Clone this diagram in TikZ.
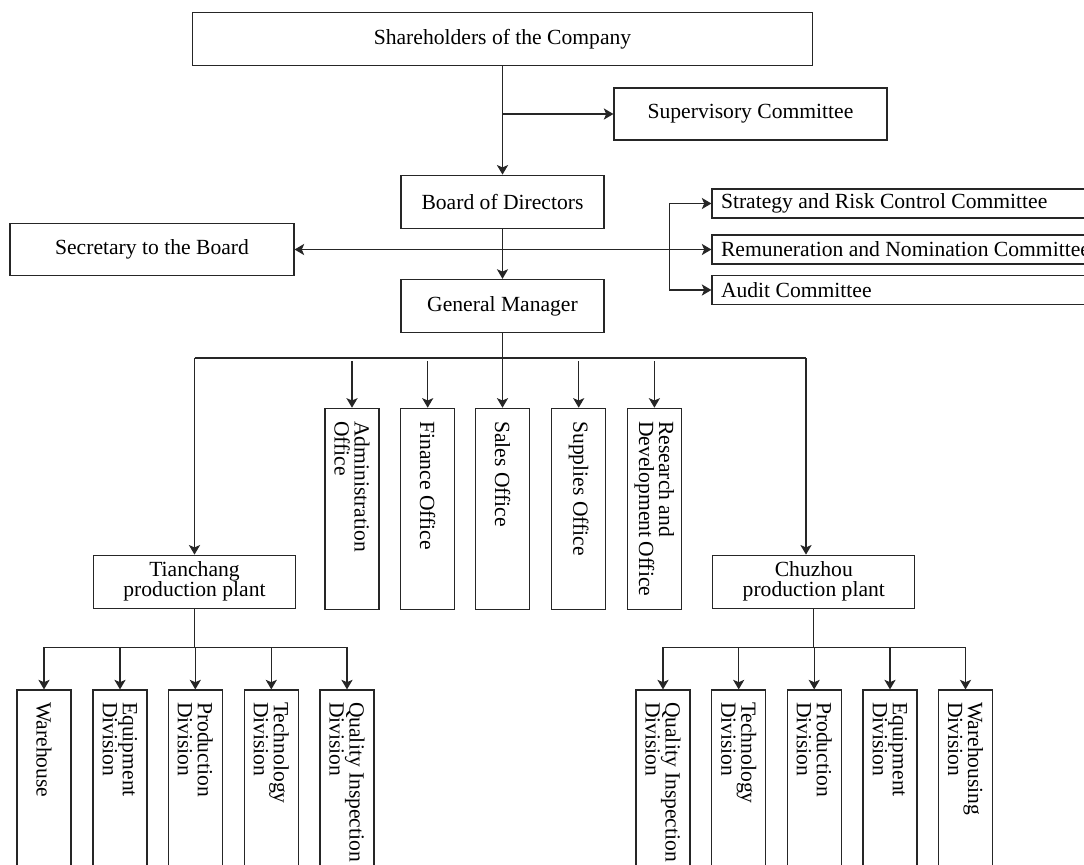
\documentclass[tikz,border=0pt]{standalone}
\usepackage{fontspec}
\setmainfont{Liberation Serif}
\usetikzlibrary{arrows.meta,positioning,calc}
\definecolor{OrgInk}{HTML}{262626}

\begin{document}
\begin{tikzpicture}[
  x=0.5pt, y=-0.5pt,
  line width=0.6pt, color=OrgInk,
  font=\fontsize{10.8}{10}\selectfont,
  orgbox/.style={draw=OrgInk,text=black,minimum height=26.5pt,
    inner sep=2pt,align=center},
  deptbox/.style={draw=OrgInk,text=black,rotate=-90,minimum height=27pt,
    inner ysep=0pt,align=flush left},
  offbox/.style={deptbox,minimum width=100.5pt,inner xsep=6.5pt,text width=87.5pt},
  divbox/.style={deptbox,minimum width=105pt,inner xsep=6pt,text width=93pt},
  cmtebox/.style={draw=OrgInk,text=black,anchor=west,minimum height=14.5pt,
    inner xsep=4.5pt,inner ysep=0pt,text width=230pt,align=flush left},
  link/.style={-{Stealth[length=4.8pt,width=5.6pt,inset=1.2pt]}}
]
\fill[white] (0,0) rectangle (1084,864);
\useasboundingbox (0,0) rectangle (1084,864);

% top of the chart
\node (sh) [orgbox,minimum width=310pt] at (502.5,38.8) {Shareholders of the Company};
\node (bod) [orgbox,minimum width=101.5pt,below=54.35pt of sh] {Board of Directors};
\node (gm) [orgbox,minimum width=101.5pt,below=25pt of bod] {General Manager};
\node (sup) [orgbox,minimum width=136.5pt,minimum height=26pt] at (750.5,114) {Supervisory Committee};
\node (sec) [orgbox,minimum width=142pt,minimum height=26pt] at (152,249.5) {Secretary to the Board};

% committees of the board
\node (str) [cmtebox] at (711.4,203.5) {Strategy and Risk Control Committee};
\node (rem) [cmtebox] at (711.4,249.5) {Remuneration and Nomination Committee};
\node (aud) [cmtebox] at (711.4,290) {Audit Committee};

% offices
\node (adm) [offbox] at (352,508.8) {Administration\\Office};
\node (fin) [offbox] at (427.7,508.8) {Finance Office};
\node (sal) [offbox] at (502.5,508.8) {Sales Office};
\node (spl) [offbox] at (578.7,508.8) {Supplies Office};
\node (rnd) [offbox] at (654.4,508.8) {Research and\\Development~Office};

% plants
\node (tc) [orgbox,minimum width=101pt] at (194.5,581.7) {Tianchang\\production plant};
\node (cz) [orgbox,minimum width=101pt] at (813.8,581.7) {Chuzhou\\production plant};

% divisions of Tianchang
\node (twh) [divbox] at (44,795) {Warehouse};
\node (teq) [divbox] at (120,795) {Equipment\\Division};
\node (tpd) [divbox] at (195.3,795) {Production\\Division};
\node (ttc) [divbox] at (271.3,795) {Technology\\Division};
\node (tqi) [divbox] at (347,795) {Quality Inspection\\Division};

% divisions of Chuzhou
\node (cqi) [divbox] at (663,795) {Quality Inspection\\Division};
\node (ctc) [divbox] at (738.7,795) {Technology\\Division};
\node (cpd) [divbox] at (814.2,795) {Production\\Division};
\node (ceq) [divbox] at (890,795) {Equipment\\Division};
\node (cwh) [divbox] at (965.5,795) {Warehousing\\Division};

% connectors
\coordinate (sj) at (sh.south |- sup.west);
\draw[link] (sh) -- (bod);
\draw[link] (sj) -- (sup);
\coordinate (bj) at (bod.south |- sec.east);
\draw[link] (bod) -- (gm);
\draw[link] (bj) -- (sec);
\draw[link] (bj) -- (rem);
\coordinate (kt) at (669.4,203.5);
\coordinate (kb) at (669.4,290);
\draw (kt) -- (kb);
\draw[link] (kt) -- (str);
\draw[link] (kb) -- (aud);

\coordinate (gb) at ($(gm.south)+(0,28)$);
\coordinate (gl) at (194.5,358);
\coordinate (gr) at (806,358);
\draw (gm) -- (gb);
\draw (gl) -- (gr);
\draw[link] (gl) -- (tc);
\draw[link] (gr) -- (gr |- cz.north);
\draw[link] (adm |- gb) -- (adm);
\draw[link] (fin |- gb) -- (fin);
\draw[link] (sal |- gb) -- (sal);
\draw[link] (spl |- gb) -- (spl);
\draw[link] (rnd |- gb) -- (rnd);

\coordinate (tb) at ($(tc.south)+(0,38.5)$);
\draw (tc) -- (tb);
\draw (twh |- tb) -- (tqi |- tb);
\draw[link] (twh |- tb) -- (twh);
\draw[link] (teq |- tb) -- (teq);
\draw[link] (tpd |- tb) -- (tpd);
\draw[link] (ttc |- tb) -- (ttc);
\draw[link] (tqi |- tb) -- (tqi);

\coordinate (zb) at ($(cz.south)+(0,38.5)$);
\draw (cz) -- (zb);
\draw (cqi |- zb) -- (cwh |- zb);
\draw[link] (cqi |- zb) -- (cqi);
\draw[link] (ctc |- zb) -- (ctc);
\draw[link] (cpd |- zb) -- (cpd);
\draw[link] (ceq |- zb) -- (ceq);
\draw[link] (cwh |- zb) -- (cwh);
\end{tikzpicture}
\end{document}
